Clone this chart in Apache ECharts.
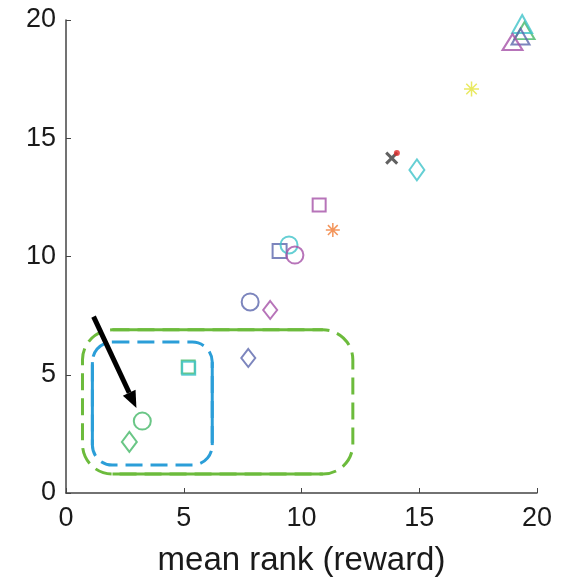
<!DOCTYPE html>
<html>
<head>
<meta charset="utf-8">
<script src="https://cdn.jsdelivr.net/npm/echarts@6/dist/echarts.min.js"></script>
<style>
  html, body { margin: 0; padding: 0; background: #fff; }
  #chart { width: 573px; height: 584px; }
</style>
</head>
<body>
<div id="chart"></div>
<script>
// Axis ticks
const xTicks = [0, 5, 10, 15, 20];
const yTicks = [0, 5, 10, 15, 20];
const xName = 'mean rank (reward)';

// Points: [mean rank (reward), y value]
const triCyan = [[19.37, 19.83]];
const triGreen = [[19.47, 19.55]];
const triNavy = [[19.3, 19.3]];
const triPurple = [[18.96, 19.07]];
const starYellow = [[17.22, 17.08]];
const starOrange = [[11.33, 11.12]];
const crossBlack = [[13.83, 14.16]];
const dotRed = [[14.05, 14.38]];
const diamondCyan = [[14.9, 13.66]];
const diamondPurple = [[8.67, 7.74]];
const diamondNavy = [[7.74, 5.71]];
const diamondGreen = [[2.69, 2.16]];
const squarePurple = [[10.75, 12.18]];
const squareNavy = [[9.07, 10.23]];
const squareGreen = [[5.19, 5.33]];
const squareCyan = [[5.21, 5.27]];
const circleCyan = [[9.47, 10.49]];
const circlePurple = [[9.72, 10.06]];
const circleNavy = [[7.82, 8.08]];
const circleGreen = [[3.24, 3.04]];

// Highlight boxes: [xMin, yMin, xMax, yMax]
const greenBox = [0.7, 0.8, 12.18, 6.9];
const blueBox = [1.12, 1.18, 6.21, 6.38];
// Arrow: [from, to]
const arrow = [[1.17, 7.46], [2.99, 3.59]];

const C = {
  cyan: '#3fc3c9',
  green: '#45b868',
  navy: '#5b66ad',
  purple: '#a551a8',
  yellow: '#e4e43a',
  orange: '#f07a32',
  black: '#3a3a3a',
  red: '#e02a2a',
  boxGreen: '#6cbb3c',
  boxBlue: '#2b9ed8'
};

const asteriskPath = 'path://M0,-10L0,10M-10,0L10,0M-7,-7L7,7M-7,7L7,-7';
const crossPath = 'path://M-10,-10L10,10M-10,10L10,-10';
const fontFamily = 'Liberation Sans, Arial, Helvetica, sans-serif';

function pts(data, symbol, size, color, lw, z) {
  return {
    type: 'scatter',
    data: data,
    symbol: symbol,
    symbolSize: size,
    z: z || 3,
    itemStyle: {
      color: 'rgba(255,255,255,0)',
      borderColor: color,
      borderWidth: lw || 2
    },
    emphasis: { disabled: true },
    silent: true
  };
}

function boxSeries(box, color, r, solidSides) {
  return {
    type: 'custom',
    silent: true,
    z: 2,
    data: [box],
    renderItem: function (params, api) {
      const p0 = api.coord([api.value(0), api.value(3)]);
      const p1 = api.coord([api.value(2), api.value(1)]);
      const x = p0[0], y = p0[1], w = p1[0] - p0[0], h = p1[1] - p0[1];
      const children = [{
        type: 'rect',
        shape: { x: x, y: y, width: w, height: h, r: r },
        style: { fill: 'none', stroke: color, lineWidth: 3, lineDash: [17, 8] }
      }];
      const lineStyle = { stroke: color, lineWidth: 3 };
      if (solidSides === 'horizontal') {
        children.push({ type: 'line', shape: { x1: x + r, y1: y, x2: x + w - r, y2: y }, style: lineStyle });
        children.push({ type: 'line', shape: { x1: x + r, y1: y + h, x2: x + w - r, y2: y + h }, style: lineStyle });
      } else {
        children.push({ type: 'line', shape: { x1: x, y1: y + r, x2: x, y2: y + h - r }, style: lineStyle });
        children.push({ type: 'line', shape: { x1: x + w, y1: y + r, x2: x + w, y2: y + h - r }, style: lineStyle });
      }
      return { type: 'group', children: children };
    }
  };
}

const arrowSeries = {
  type: 'custom',
  silent: true,
  z: 4,
  data: [[arrow[0][0], arrow[0][1], arrow[1][0], arrow[1][1]]],
  renderItem: function (params, api) {
    const a = api.coord([api.value(0), api.value(1)]);
    const b = api.coord([api.value(2), api.value(3)]);
    const ang = Math.atan2(b[1] - a[1], b[0] - a[0]);
    const headLen = 17, headW = 7;
    const bx = b[0] - headLen * Math.cos(ang), by = b[1] - headLen * Math.sin(ang);
    const nx = -Math.sin(ang), ny = Math.cos(ang);
    return {
      type: 'group',
      children: [
        { type: 'line', shape: { x1: a[0], y1: a[1], x2: bx, y2: by },
          style: { stroke: '#000', lineWidth: 5 } },
        { type: 'polygon', shape: { points: [[b[0], b[1]], [bx + nx * headW, by + ny * headW], [bx - nx * headW, by - ny * headW]] },
          style: { fill: '#000' } }
      ]
    };
  }
};

const axisCommon = {
  min: 0, max: 20, interval: 5,
  axisLine: { show: true, lineStyle: { color: '#444', width: 1.5 } },
  axisTick: { show: true, inside: true, length: 5, lineStyle: { color: '#444', width: 1 } },
  splitLine: { show: false },
  axisLabel: { fontSize: 27, color: '#1a1a1a', fontFamily: fontFamily }
};

const chart = echarts.init(document.getElementById('chart'), null, { renderer: 'canvas' });
chart.setOption({
  animation: false,
  backgroundColor: '#fff',
  grid: { left: 66, right: 36, top: 20, bottom: 91, containLabel: false, outerBoundsMode: 'none' },
  xAxis: Object.assign({}, axisCommon, {
    type: 'value',
    name: xName,
    nameLocation: 'middle',
    nameGap: 51,
    nameTextStyle: { fontSize: 33, color: '#1a1a1a', fontFamily: fontFamily },
    axisLabel: Object.assign({}, axisCommon.axisLabel, {
      margin: 12,
      formatter: function (v) { return xTicks.indexOf(v) >= 0 ? String(v) : ''; }
    })
  }),
  yAxis: Object.assign({}, axisCommon, {
    type: 'value',
    axisLabel: Object.assign({}, axisCommon.axisLabel, {
      margin: 10,
      formatter: function (v) { return yTicks.indexOf(v) >= 0 ? String(v) : ''; }
    })
  }),
  series: [
    boxSeries(greenBox, C.boxGreen, 30, 'horizontal'),
    boxSeries(blueBox, C.boxBlue, 20, 'vertical'),
    pts(triGreen, 'triangle', [20, 17], C.green),
    pts(triCyan, 'triangle', [20, 18], C.cyan),
    pts(triNavy, 'triangle', [18, 16], C.navy),
    pts(triPurple, 'triangle', [20, 16], C.purple),
    pts(starYellow, asteriskPath, [15, 15], C.yellow, 1.5),
    pts(starOrange, asteriskPath, [14, 14], C.orange, 1.5),
    pts(crossBlack, crossPath, [11, 11], C.black, 3),
    { type: 'scatter', data: dotRed, symbol: 'circle', symbolSize: 6, z: 5, silent: true,
      itemStyle: { color: C.red } },
    pts(diamondCyan, 'diamond', [15, 21], C.cyan),
    pts(diamondPurple, 'diamond', [14, 18], C.purple),
    pts(diamondNavy, 'diamond', [14, 18], C.navy),
    pts(diamondGreen, 'diamond', [15, 20], C.green),
    pts(squarePurple, 'rect', [13, 13], C.purple),
    pts(squareNavy, 'rect', [14, 14], C.navy),
    pts(squareGreen, 'rect', [13, 13], C.green),
    pts(squareCyan, 'rect', [13, 13], C.cyan),
    pts(circleNavy, 'circle', 17, C.navy),
    pts(circleCyan, 'circle', 17, C.cyan),
    pts(circlePurple, 'circle', 17, C.purple),
    pts(circleGreen, 'circle', 17, C.green),
    arrowSeries
  ]
});
</script>
</body>
</html>
